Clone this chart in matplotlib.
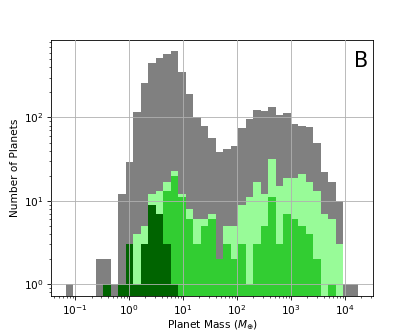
import numpy as np
import matplotlib
matplotlib.use("Agg")
import matplotlib.pyplot as plt

# log10 bin edges of the mass histogram (39 bins)
log_min, log_max, n_bins = -1.178, 4.248, 39

# counts per bin
n_all = [1, 0, 0, 0, 2, 2, 1, 12, 29, 116,
         258, 455, 510, 570, 625, 353, 189, 100, 80, 56,
         38, 42, 46, 74, 95, 124, 118, 132, 107, 112,
         83, 79, 77, 49, 22, 17, 10, 1, 1]
n_light = [0, 0, 0, 0, 0, 1, 0, 1, 3, 4,
           5, 12, 13, 17, 23, 12, 8, 6, 6, 7,
           2, 5, 5, 9, 11, 17, 12, 32, 15, 19,
           19, 21, 17, 13, 7, 6, 3, 0, 0]
n_mid = [0, 0, 0, 0, 0, 1, 0, 1, 3, 1,
         3, 9, 7, 13, 20, 11, 6, 3, 5, 6,
         2, 3, 2, 3, 1, 3, 5, 11, 3, 7,
         6, 5, 4, 2, 0, 1, 0, 0, 0]
n_dark = [0, 0, 0, 0, 0, 1, 0, 1, 3, 1,
          3, 9, 7, 3, 1, 0, 0, 0, 0, 0,
          0, 0, 0, 0, 0, 0, 0, 0, 0, 0,
          0, 0, 0, 0, 0, 0, 0, 0, 0]

bins = np.logspace(log_min, log_max, n_bins + 1)
centers = np.sqrt(bins[1:] * bins[:-1])

# original figure was rendered larger and shrunk, so scale text and lines down
s = 0.76
plt.rcParams.update({
    'font.size': 10 * s,
    'axes.linewidth': 0.8 * s,
    'grid.linewidth': 0.8 * s,
    'xtick.major.size': 3.5 * s, 'ytick.major.size': 3.5 * s,
    'xtick.minor.size': 2 * s, 'ytick.minor.size': 2 * s,
    'xtick.major.width': 0.8 * s, 'ytick.major.width': 0.8 * s,
    'xtick.minor.width': 0.6 * s, 'ytick.minor.width': 0.6 * s,
    'xtick.major.pad': 3.5 * s, 'ytick.major.pad': 3.5 * s,
})

fig = plt.figure(figsize=(4.15, 3.33), dpi=100)
ax = fig.add_axes([0.123, 0.111, 0.776, 0.769])

for counts, col in [(n_all, 'gray'), (n_light, 'palegreen'),
                    (n_mid, 'limegreen'), (n_dark, 'darkgreen')]:
    ax.hist(centers, bins=bins, weights=counts, histtype='stepfilled',
            color=col, log=True)

ax.set_xscale('log')
ax.set_ylim(0.72, 850)
ax.set_xlim(10**-1.449, 10**4.519)
ax.set_axisbelow(False)
ax.grid(True)
ax.set_xlabel(r'Planet Mass ($M_{\oplus}$)', labelpad=1)
ax.set_ylabel('Number of Planets', labelpad=3)
ax.text(0.985, 0.955, 'B', transform=ax.transAxes, ha='right', va='top',
        fontsize=15)

fig.savefig('out.png', dpi=100)
